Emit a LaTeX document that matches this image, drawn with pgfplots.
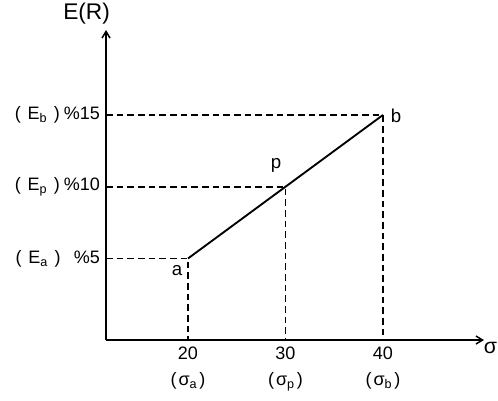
\documentclass[border=0pt]{standalone}
\usepackage{fontspec}
\setmainfont{Liberation Sans}
\usepackage{pgfplots}
\pgfplotsset{compat=1.18}
\usetikzlibrary{arrows.meta}

\begin{document}
\begin{tikzpicture}[x=1pt,y=1pt]
\useasboundingbox (0,0) rectangle (373.5,300);
\begin{axis}[
  at={(79.5pt,45pt)}, anchor=south west,
  scale only axis, width=283.5pt, height=232.5pt,
  xmin=11.59, xmax=50.36, ymin=-0.68, ymax=20.92,
  axis lines=left,
  axis line style={line width=1.1pt, -{Straight Barb[length=5pt,width=6pt]}},
  xtick={20,30,40},
  xticklabels={{20\\(\hspace{1.5pt}σ\textsubscript{a}\hspace{1.5pt})},
               {30\\(\hspace{1.5pt}σ\textsubscript{p}\hspace{1.5pt})},
               {40\\(\hspace{1.5pt}σ\textsubscript{b}\hspace{1.5pt})}},
  ytick={5,10,15},
  yticklabels={{(\hspace{5pt}E\textsubscript{a}\hspace{5pt})\hspace{10pt}\%5},
               {(\hspace{5pt}E\textsubscript{p}\hspace{5pt})\hspace{3pt}\%10},
               {(\hspace{5pt}E\textsubscript{b}\hspace{5pt})\hspace{3pt}\%15}},
  major tick length=0pt,
  xticklabel style={align=center, font=\fontsize{13.5}{19}\selectfont, yshift=-2pt},
  yticklabel style={font=\fontsize{13.5}{15}\selectfont, xshift=-1pt},
  clip=false,
]
% guide lines from the axes to each portfolio
\addplot[black, line width=1.3pt, dash pattern=on 5pt off 3pt] coordinates {(11.59,5) (20,5) (20,-0.68)};
\addplot[black, line width=1.3pt, dash pattern=on 5pt off 3pt] coordinates {(11.59,10) (30,10) (30,-0.68)};
\addplot[black, line width=1.3pt, dash pattern=on 5pt off 3pt] coordinates {(11.59,15) (40,15) (40,-0.68)};
% risk-return line through a, p and b
\addplot[black, line width=1.4pt] coordinates {(20,5) (30,10) (40,15)};

\node[font=\fontsize{14}{16}\selectfont] at (axis cs:18.87,4.13) {a};
\node[font=\fontsize{14}{16}\selectfont] at (axis cs:29.03,11.45) {p};
\node[font=\fontsize{14}{16}\selectfont] at (axis cs:41.33,14.93) {b};
\node[font=\fontsize{17}{19}\selectfont] at (axis cs:9.6,22.04) {E(R)};
\end{axis}
% horizontal axis name at the far right
\node[font=\fontsize{16}{18}\selectfont, anchor=east, inner sep=0.5pt] at (373.5,39) {σ};
\end{tikzpicture}
\end{document}
